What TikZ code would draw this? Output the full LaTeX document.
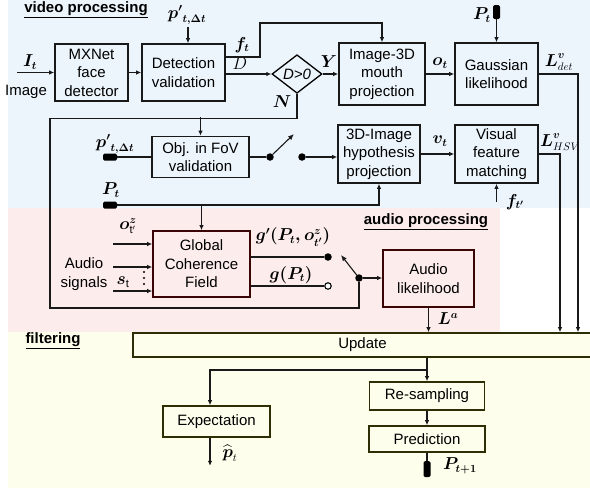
\documentclass[tikz,border=0pt]{standalone}
\usepackage{amsmath, amsfonts, fontspec}
\usetikzlibrary{arrows.meta, shapes.geometric}
\setmainfont{Liberation Sans}
\definecolor{vidbg}{HTML}{EDF5FC}
\definecolor{audbg}{HTML}{FDECEC}
\definecolor{filtbg}{HTML}{FEFEEC}
\definecolor{audline}{HTML}{3A0505}
\definecolor{filtline}{HTML}{2E2E05}
\tikzset{
  box/.style={draw, line width=1.6pt, align=center, inner sep=2pt},
  vidbox/.style={box, fill=vidbg, draw=black!90},
  audbox/.style={box, fill=audbg, draw=audline},
  filtbox/.style={box, fill=filtbg, draw=filtline},
  conn/.style={line width=1.1pt, draw=black!90},
  arr/.style={conn, -{Latex[length=5pt,width=4.5pt]}},
  lever/.style={conn, -{Latex[length=6pt,width=5pt]}},
  lab/.style={inner sep=0pt, font=\fontsize{16}{19}\selectfont},
  dot/.style={circle, fill=black, inner sep=0pt, minimum size=7.5pt},
  odot/.style={circle, draw, fill=white, line width=1.1pt, inner sep=0pt, minimum size=6.5pt},
  plugv/.style={rectangle, fill=black, rounded corners=1.5pt, inner sep=0pt, minimum width=7pt, minimum height=14pt},
  plugh/.style={rectangle, fill=black, rounded corners=1.5pt, inner sep=0pt, minimum width=14pt, minimum height=7pt},
  title/.style={inner sep=0pt, font=\fontsize{15}{18}\selectfont\bfseries}
}

\begin{document}
\begin{tikzpicture}[x=1pt, y=-1pt, font=\fontsize{15}{18.5}\selectfont]
  \useasboundingbox (0,0) rectangle (590,488);
  % areas
  \fill[vidbg] (8,0) rectangle (590,208);
  \fill[audbg] (8,208) rectangle (500,332);
  \fill[filtbg] (8,332) rectangle (590,488);
  \node[title] (vidtitle) at (86,10) {\underline{video processing}};
  \node[title] (audtitle) at (426,222) {\underline{audio processing}};
  \node[title] (filttitle) at (53,341) {\underline{filtering}};

  % video processing
  \node[vidbox, minimum width=73pt, minimum height=57pt] (mxnet) at (91.5,72.5) {MXNet\\face\\detector};
  \node[vidbox, minimum width=83pt, minimum height=57pt] (detect) at (183.5,72.5) {Detection\\validation};
  \node[diamond, draw, fill=vidbg, line width=1.3pt, inner sep=0pt, minimum width=50pt, minimum height=36pt] (dia) at (297,74) {\textit{D>0}};
  \node[vidbox, minimum width=86pt, minimum height=62pt] (imgmouth) at (382,74) {Image-3D\\mouth\\projection};
  \node[vidbox, minimum width=83pt, minimum height=62pt] (gauss) at (496.5,74) {Gaussian\\likelihood};
  \node[vidbox, minimum width=97pt, minimum height=41pt] (objfov) at (200.5,157) {Obj. in FoV\\validation};
  \node[vidbox, minimum width=82pt, minimum height=58pt] (hypproj) at (379,154) {3D-Image\\hypothesis\\projection};
  \node[vidbox, minimum width=83pt, minimum height=58pt] (visual) at (496.5,154) {Visual\\feature\\matching};

  \node[plugv] (plugP) at (496.5,12) {};
  \node[plugh] (plugpl) at (110,157) {};
  \node[plugh] (plugPl) at (110,205) {};
  \node[dot] (sw1) at (270,157) {};
  \node[dot] (sw2) at (302,157) {};
  \coordinate (sw1end) at (294,134);
  \coordinate (imgin) at (17,72.5);
  \coordinate (pin) at (188,27);
  \coordinate (fin) at (496.5,202);

  \node[lab] (ptop) at (187,15) {$\boldsymbol{{p'}_{t,\Delta t}}$};
  \node[lab] (Itlab) at (30,62) {$\boldsymbol{I_t}$};
  \node[inner sep=0pt] (imgtxt) at (26,92) {Image};
  \node[lab] (ftlab) at (242,45) {$\boldsymbol{f_t}$};
  \node[lab] (Dlab) at (240,64) {$D$};
  \node[lab] (Ylab) at (329,62) {$\boldsymbol{Y}$};
  \node[lab] (Nlab) at (282,102) {$\boldsymbol{N}$};
  \node[lab] (otlab) at (440,63) {$\boldsymbol{o_t}$};
  \node[lab] (Ldetlab) at (559,62) {$\boldsymbol{L}^{\boldsymbol{v}}_{det}$};
  \node[lab] (Ptoplab) at (482,15) {$\boldsymbol{P_t}$};
  \node[lab] (pleftlab) at (115,144) {$\boldsymbol{{p'}_{t,\Delta t}}$};
  \node[lab] (Pleftlab) at (111,190) {$\boldsymbol{P_t}$};
  \node[lab] (vtlab) at (440,141) {$\boldsymbol{v_t}$};
  \node[lab] (Lhsvlab) at (560,142) {$\boldsymbol{L}^{\boldsymbol{v}}_{HSV}$};
  \node[lab] (ftplab) at (515,202) {$\boldsymbol{f_{t'}}$};

  \draw[arr] (imgin) -- (mxnet.west);
  \draw[arr] (mxnet.east) -- (detect.west);
  \draw[arr] (pin) -- (pin |- detect.north);
  \draw[arr] (detect.east |- 0,57) -| (260,23) -| (imgmouth.north);
  \draw[arr] (detect.east |- dia.west) -- (dia.west);
  \draw[arr] (dia.east) -- (dia.east -| imgmouth.west);
  \draw[arr] (imgmouth.east |- gauss.west) -- (gauss.west);
  \draw[arr] (plugP.south) -- (gauss.north);
  \draw[conn] (plugpl.east) -- (objfov.west);
  \draw[conn] (objfov.east) -- (sw1);
  \draw[lever] (sw1) -- (sw1end);
  \draw[arr] (sw2) -- (sw2 -| hypproj.west);
  \draw[arr] (hypproj.east |- visual.west) -- (visual.west);
  \draw[arr] (fin) -- (visual.south);
  \draw[arr] (plugPl.east) -| (hypproj.south);

  % audio processing
  \node[audbox, minimum width=97pt, minimum height=66pt] (gcf) at (201.5,264) {Global\\Coherence\\Field};
  \node[audbox, minimum width=91pt, minimum height=57pt] (audlik) at (428.5,278.5) {Audio\\likelihood};
  \node[dot] (gd) at (328,257) {};
  \node[odot] (go) at (328,286) {};
  \node[dot] (pivot) at (359,278) {};
  \coordinate (pivotend) at (341,255);

  \node[lab] (ozlab) at (128,226) {$\boldsymbol{o}^{\boldsymbol{z}}_{\mathrm{t}'}$};
  \node[align=center, inner sep=0pt] (audtxt) at (84,274) {Audio\\signals};
  \node[lab] (stlab) at (123,282) {$\boldsymbol{s}_{\mathrm{t}}$};
  \foreach \y in {272,278,284}
    \fill (144,\y) circle [radius=1.1];
  \node[lab] (gplab) at (293,237) {$\boldsymbol{g'(P_t,o^z_{t'})}$};
  \node[lab] (glab) at (291,275) {$\boldsymbol{g(P_t)}$};
  \node[lab] (Lalab) at (448,319) {$\boldsymbol{L^a}$};

  \foreach \y/\n in {244/oz,267/au,291/st} {
    \coordinate (in\n) at (113,\y);
    \draw[arr] (in\n) -- (in\n -| gcf.west);
  }
  \draw[arr] (plugPl.east -| gcf.north) -- (gcf.north);
  \draw[conn] (gcf.east |- gd) -- (gd);
  \draw[conn] (gcf.east |- go) -- (go);
  \draw[lever] (pivot) -- (pivotend);
  \draw[arr] (pivot) -- (pivot -| audlik.west);
  \draw[conn] (dia.south) -- ++(0,25) -| (50,308) -| (pivot);
  \draw[arr] (objfov.north |- 0,117) -- (objfov.north);

  % filtering
  \node[filtbox, minimum width=459pt, minimum height=24pt] (update) at (362.5,345) {Update};
  \node[filtbox, minimum width=107pt, minimum height=31pt] (expect) at (216.5,421.5) {Expectation};
  \node[filtbox, minimum width=115pt, minimum height=28pt] (resamp) at (427,396) {Re-sampling};
  \node[filtbox, minimum width=116pt, minimum height=26pt] (predict) at (427,439) {Prediction};
  \node[plugv, minimum height=16pt] (plugN) at (427,469) {};
  \node[lab] (phatlab) at (230,453) {$\widehat{\boldsymbol{p}}_{t}$};
  \node[lab] (Pnextlab) at (460,466) {$\boldsymbol{P_{t+1}}$};

  \draw[arr] (gauss.east) -| (update.north -| 578,0);
  \draw[arr] (visual.east) -| (update.north -| 560,0);
  \draw[arr] (audlik.south) -- (update.north -| audlik.south);
  \draw[arr] (update.south -| resamp.north) -- (resamp.north);
  \draw[arr] (resamp.north |- 0,370) -| ([xshift=-6.5pt]expect.north);
  \draw[arr] ([xshift=-6.5pt]expect.south) -- ++(0,28);
  \draw[arr] (resamp.south) -- (predict.north);
  \draw[conn] (predict.south) -- (plugN.north);
\end{tikzpicture}
\end{document}
